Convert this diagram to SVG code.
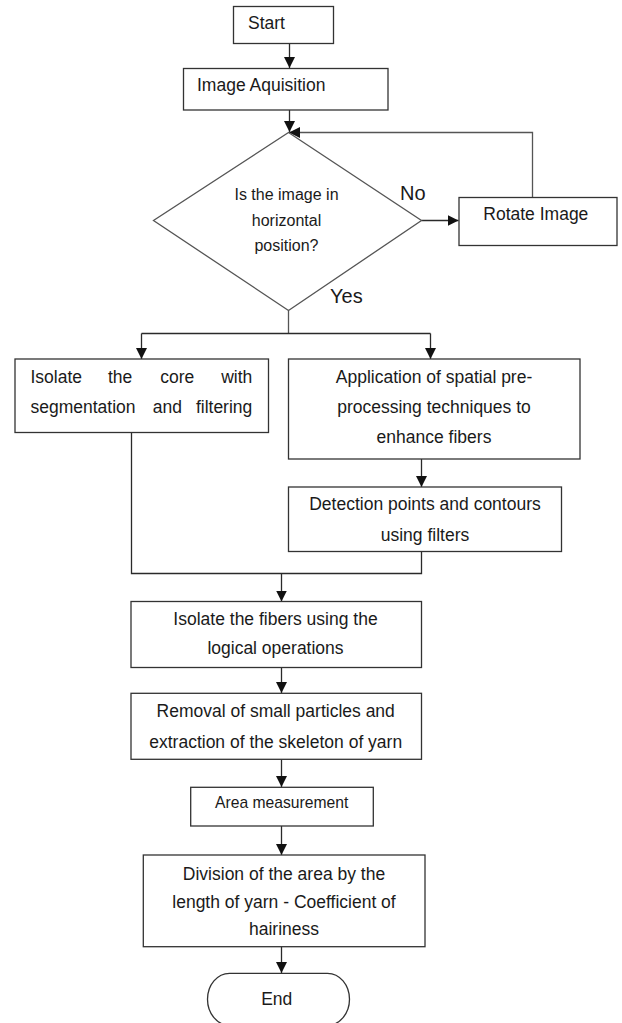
<svg xmlns="http://www.w3.org/2000/svg" width="622" height="1023" viewBox="0 0 622 1023">
  <style>
    .box { fill: #ffffff; stroke: #333333; stroke-width: 1.3; }
    .dia { fill: #ffffff; stroke: #555555; stroke-width: 1.3; }
    .ln { fill: none; stroke: #2a2a2a; stroke-width: 1.3; }
    .lng { fill: none; stroke: #555555; stroke-width: 1.3; }
    .arr { marker-end: url(#arrow); }
    text { font-family: "Liberation Sans", Arial, sans-serif; font-size: 17.5px; fill: #1a1a1a; }
    .c { text-anchor: middle; }
    .e { text-anchor: end; }
    .q { font-size: 16px; }
    .lbl { font-size: 20px; }
    .sm { font-size: 15.7px; }
  </style>
  <defs>
    <marker id="arrow" viewBox="0 0 10 10" refX="10" refY="5" markerWidth="11" markerHeight="11" markerUnits="userSpaceOnUse" orient="auto">
      <path d="M0,0 L10,5 L0,10 z" fill="#111111"/>
    </marker>
  </defs>

  <rect width="622" height="1023" fill="#ffffff"/>

  <!-- connectors -->
  <g id="connectors">
    <path class="ln arr" d="M289.5,43.5 V68"/>
    <path class="ln arr" d="M289.5,110 V132"/>
    <path class="lng arr" d="M532.5,197.5 V132.5 H289"/>
    <path class="ln arr" d="M421.5,220.5 H458.5"/>
    <path class="lng" d="M288.5,310.5 V333.5"/>
    <path class="ln" d="M141.5,333.5 H430.5"/>
    <path class="ln arr" d="M141.5,333.5 V359"/>
    <path class="ln arr" d="M430.5,333.5 V359"/>
    <path class="ln arr" d="M421.5,459 V487"/>
    <path class="ln" d="M131.5,432.5 V573.5 H421.5 V551.5"/>
    <path class="ln arr" d="M281.5,573.5 V601.5"/>
    <path class="ln arr" d="M281.5,667.5 V693"/>
    <path class="ln arr" d="M281.5,759.5 V787"/>
    <path class="ln arr" d="M281.5,826 V855"/>
    <path class="ln arr" d="M281.5,946.5 V973"/>
  </g>

  <g id="start">
    <rect class="box" x="233.5" y="6.5" width="100" height="37"/>
    <text x="248" y="28.5">Start</text>
  </g>

  <g id="acquisition">
    <rect class="box" x="183.5" y="68.5" width="204.5" height="41.5"/>
    <text x="197" y="91">Image Aquisition</text>
  </g>

  <g id="decision">
    <polygon class="dia" points="288.5,132.5 421.5,220.5 288.5,310.5 153.5,220.5"/>
    <text class="c q" x="286.5" y="200">Is the image in</text>
    <text class="c q" x="286.5" y="226">horizontal</text>
    <text class="c q" x="286.5" y="251">position?</text>
    <text class="lbl" x="400" y="199.5">No</text>
    <text class="lbl" x="330" y="302.5">Yes</text>
  </g>

  <g id="rotate">
    <rect class="box" x="459" y="197.5" width="158" height="48"/>
    <text x="483.3" y="220">Rotate Image</text>
  </g>

  <g id="core">
    <rect class="box" x="15" y="359" width="253.5" height="73.5"/>
    <text x="30.5" y="383.3">Isolate</text>
    <text x="107.9" y="383.3">the</text>
    <text x="160.3" y="383.3">core</text>
    <text class="e" x="252.3" y="383.3">with</text>
    <text x="30.5" y="413.3">segmentation</text>
    <text x="152.7" y="413.3">and</text>
    <text class="e" x="252.3" y="413.3">filtering</text>
  </g>

  <g id="preprocess">
    <rect class="box" x="288.5" y="359" width="291.5" height="100"/>
    <text class="c" x="434" y="383.3">Application of spatial pre-</text>
    <text class="c" x="434" y="413.3">processing techniques to</text>
    <text class="c" x="434" y="443.3">enhance fibers</text>
  </g>

  <g id="detection">
    <rect class="box" x="288.5" y="487" width="273" height="64.5"/>
    <text class="c" x="425" y="510">Detection points and contours</text>
    <text class="c" x="425" y="540.7">using filters</text>
  </g>

  <g id="fibers">
    <rect class="box" x="131" y="601.5" width="290.5" height="66"/>
    <text class="c" x="275.5" y="625">Isolate the fibers using the</text>
    <text class="c" x="275.5" y="654.3">logical operations</text>
  </g>

  <g id="removal">
    <rect class="box" x="131" y="693.3" width="290.5" height="66"/>
    <text class="c" x="275.7" y="716.7">Removal of small particles and</text>
    <text class="c" x="275.7" y="747.7">extraction of the skeleton of yarn</text>
  </g>

  <g id="area">
    <rect class="box" x="190.7" y="787.3" width="182.6" height="38.7"/>
    <text class="c sm" x="281.7" y="808.3">Area measurement</text>
  </g>

  <g id="division">
    <rect class="box" x="143.3" y="855" width="281.7" height="91.7"/>
    <text class="c" x="284" y="880">Division of the area by the</text>
    <text class="c" x="284" y="908.3">length of yarn - Coefficient of</text>
    <text class="c" x="284" y="935">hairiness</text>
  </g>

  <g id="end">
    <rect class="box" x="207.5" y="973.3" width="142" height="52" rx="22" ry="26"/>
    <text class="c" x="276.7" y="1005">End</text>
  </g>
</svg>
